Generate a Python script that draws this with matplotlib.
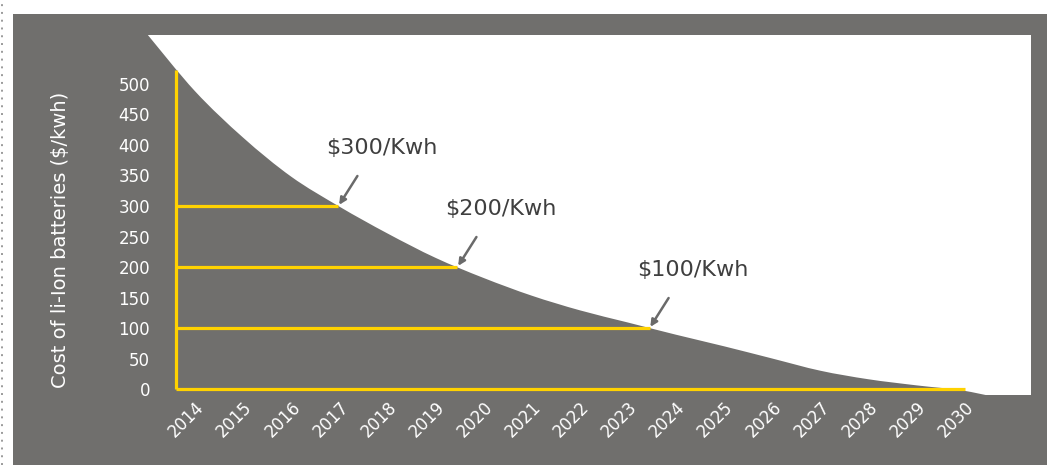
import matplotlib.pyplot as plt
import numpy as np
from matplotlib.patches import Rectangle, PathPatch
from matplotlib.lines import Line2D
from matplotlib.path import Path

# data
years = np.arange(2013, 2032)
cost = np.array([582, 488, 412, 348, 299, 255, 215, 182, 153, 129,
                 109, 89, 70, 50, 30, 16, 6, -3, -20])
tick_years = list(range(2014, 2031))
y_ticks = list(range(0, 501, 50))
levels = [300, 200, 100]
level_labels = [r'\$300/Kwh', r'\$200/Kwh', r'\$100/Kwh']
ylabel = r'Cost of li-Ion batteries (\$/kwh)'

# styles
gray = '#706f6d'
yellow = '#ffd200'
text_dark = '#3f3f3f'
arrow_gray = '#6a6a6a'
axis_start = 2013.6
axis_end = 2030
floor = -50


def smooth_area_path(x, y, base):
    '''closed path under a smoothed (catmull-rom as bezier) line'''
    pts = np.column_stack([x, y]).astype(float)
    verts = [(x[0], base), tuple(pts[0])]
    codes = [Path.MOVETO, Path.LINETO]
    n = len(pts)
    for i in range(n - 1):
        p0 = pts[max(i - 1, 0)]
        p1 = pts[i]
        p2 = pts[i + 1]
        p3 = pts[min(i + 2, n - 1)]
        c1 = p1 + (p2 - p0) / 6
        c2 = p2 - (p3 - p1) / 6
        verts += [tuple(c1), tuple(c2), tuple(p2)]
        codes += [Path.CURVE4] * 3
    verts += [(x[-1], base), (x[0], base)]
    codes += [Path.LINETO, Path.CLOSEPOLY]
    return Path(verts, codes)


W, H = 1047, 465
fig = plt.figure(figsize=(W / 100, H / 100), dpi=100)
fig.patch.set_facecolor('white')

# gray panel behind everything + dotted left border
fig.patches.append(Rectangle((13 / W, 0), 1 - 13 / W, (H - 14) / H,
                             transform=fig.transFigure, facecolor=gray,
                             edgecolor='none', zorder=-5))
fig.lines.append(Line2D([1.5 / W, 1.5 / W], [0, 1], transform=fig.transFigure,
                        color='#9a9a9a', lw=1.4, ls=(0, (1, 3))))

ax = fig.add_axes([147 / W, (H - 395) / H, 884 / W, 360 / H])
ax.set_facecolor('white')
for s in ax.spines.values():
    s.set_visible(False)
ax.set_xlim(2013, 2031.38)
ax.set_ylim(-9.8, 580.3)

ax.add_patch(PathPatch(smooth_area_path(years, cost, floor), facecolor=gray,
                       edgecolor='none', zorder=1))

# yellow axes
top = np.interp(axis_start, years, cost) - 3
kw = dict(color=yellow, lw=2.3, solid_capstyle='butt', zorder=3, clip_on=False)
ax.plot([axis_start, axis_start], [0, top], **kw)
ax.plot([axis_start, axis_end], [0, 0], **kw)

for level, label in zip(levels, level_labels):
    x_hit = np.interp(level, cost[::-1], years[::-1])
    ax.plot([axis_start, x_hit], [level, level], **kw)
    ax.annotate('', xy=(x_hit, level), xytext=(19, 30), textcoords='offset pixels',
                arrowprops=dict(arrowstyle='-|>', color=arrow_gray, lw=1.8,
                                mutation_scale=10, shrinkA=0, shrinkB=1), zorder=4)
    ax.annotate(label, xy=(x_hit, level), xytext=(43, 58), textcoords='offset pixels',
                ha='center', va='center', fontsize=16, color=text_dark, zorder=4)

ax.set_xticks(tick_years)
ax.set_xticklabels([str(y) for y in tick_years], rotation=45, ha='right',
                   va='top', rotation_mode='anchor')
ax.set_yticks(y_ticks)
ax.tick_params(axis='x', length=0, pad=2.5, labelcolor='white', labelsize=12)
ax.tick_params(axis='y', length=0, pad=-2.2, labelcolor='white', labelsize=12)

fig.text(61 / W, 1 - 240 / H, ylabel, rotation=90, ha='center', va='center',
         color='white', fontsize=14)

fig.savefig('out.png', dpi=100)
